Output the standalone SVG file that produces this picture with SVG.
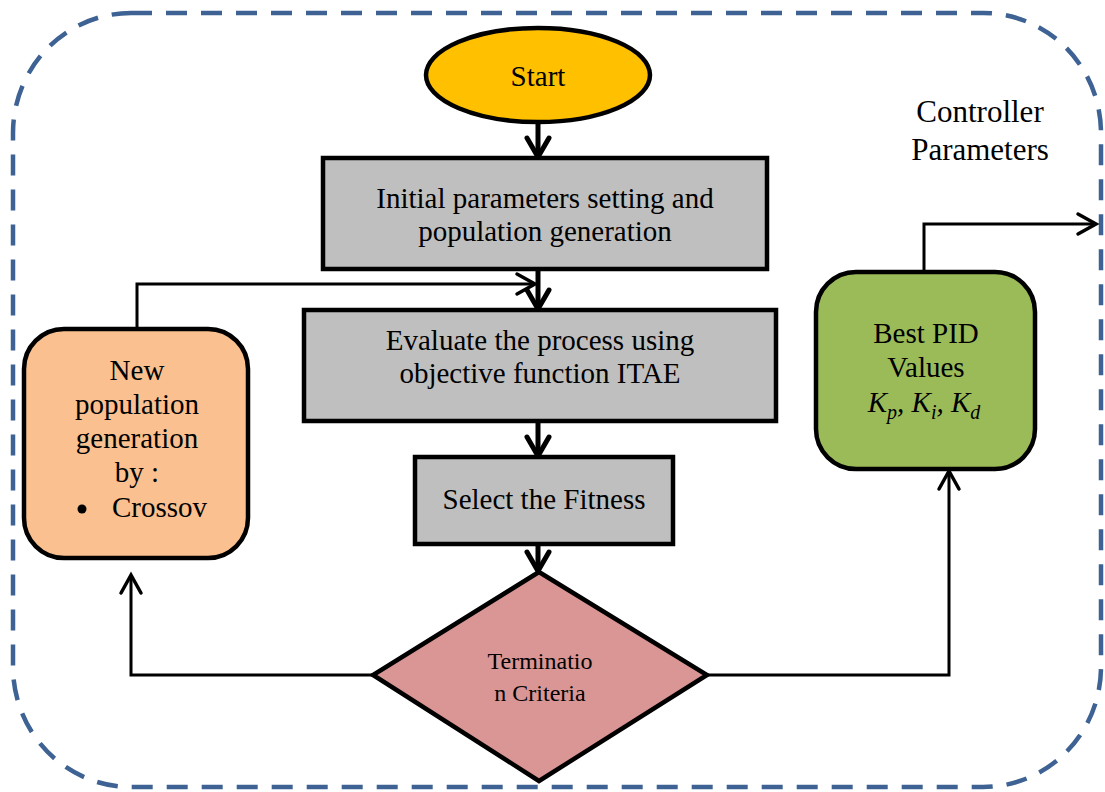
<svg xmlns="http://www.w3.org/2000/svg" width="1105" height="792" viewBox="0 0 1105 792">
<style>
text{font-family:"Liberation Serif","Times New Roman",serif;fill:#000;text-anchor:middle}
.t{font-size:29px}
.node{stroke:#000;stroke-width:4.5}
.thick{fill:none;stroke:#000;stroke-width:5}
.thin{fill:none;stroke:#000;stroke-width:3}
</style>
<defs>
<marker id="ah" viewBox="-24 -16 28 32" refX="0" refY="0" markerWidth="28" markerHeight="32" markerUnits="userSpaceOnUse" orient="auto" overflow="visible">
<path d="M-19,-11 L0,0 L-19,11" fill="none" stroke="#000" stroke-width="5" stroke-linecap="round"/>
</marker>
<marker id="ah2" viewBox="-24 -16 28 32" refX="0" refY="0" markerWidth="28" markerHeight="32" markerUnits="userSpaceOnUse" orient="auto" overflow="visible">
<path d="M-18,-10 L0,0 L-18,10" fill="none" stroke="#000" stroke-width="3.5" stroke-linecap="round"/>
</marker>
</defs>
<rect x="13" y="13" width="1088" height="774" rx="118" ry="120" fill="none" stroke="#3D6293" stroke-width="4.5" stroke-dasharray="21 14"/>
<g id="connectors">
<line class="thick" x1="538" y1="122" x2="538" y2="157" marker-end="url(#ah)"/>
<line class="thick" x1="538" y1="269" x2="538" y2="309" marker-end="url(#ah)"/>
<line class="thick" x1="538" y1="421" x2="538" y2="456" marker-end="url(#ah)"/>
<line class="thick" x1="538" y1="544" x2="538" y2="571" marker-end="url(#ah)"/>
<polyline class="thin" points="137,328 137,284 535,284" marker-end="url(#ah2)"/>
<polyline class="thin" points="373,675 131,675 131,575" marker-end="url(#ah2)"/>
<polyline class="thin" points="707,675 949,675 949,471" marker-end="url(#ah2)"/>
<polyline class="thin" points="924,272 924,224 1096,224" marker-end="url(#ah2)"/>
</g>
<g id="start">
<ellipse class="node" cx="538" cy="75" rx="112" ry="47" fill="#FFC000"/>
<text class="t" x="538" y="86">Start</text>
</g>
<g id="init">
<rect class="node" x="323" y="158" width="444" height="111" fill="#BFBFBF"/>
<text class="t" x="545" y="208">Initial parameters setting and</text>
<text class="t" x="545" y="241">population generation</text>
</g>
<g id="evaluate">
<rect class="node" x="304" y="310" width="472" height="111" fill="#BFBFBF"/>
<text class="t" x="540" y="350">Evaluate the process using</text>
<text class="t" x="540" y="383">objective function ITAE</text>
</g>
<g id="select">
<rect class="node" x="415" y="457" width="258" height="87" fill="#BFBFBF"/>
<text class="t" x="544" y="509">Select the Fitness</text>
</g>
<g id="termination">
<polygon class="node" points="539,572 707,675 539,781 373,675" fill="#D99694"/>
<text x="540" y="669" font-size="24">Terminatio</text>
<text x="540" y="701" font-size="24">n Criteria</text>
</g>
<g id="newpop">
<rect class="node" x="24" y="329" width="224" height="229" rx="40" ry="40" fill="#FAC090"/>
<text class="t" x="137" y="380">New</text>
<text class="t" x="137" y="414">population</text>
<text class="t" x="137" y="448">generation</text>
<text class="t" x="137" y="482">by :</text>
<circle cx="82" cy="509" r="4.5" fill="#000"/>
<text class="t" x="112" y="517" style="text-anchor:start">Crossov</text>
</g>
<g id="best">
<rect class="node" x="816" y="272" width="219" height="197" rx="40" ry="40" fill="#9BBB59"/>
<text class="t" x="926" y="343">Best PID</text>
<text class="t" x="926" y="377">Values</text>
<text x="924" y="412" font-size="29" font-style="italic">K<tspan font-size="20" dy="7">p</tspan><tspan dy="-7">, K</tspan><tspan font-size="20" dy="7">i</tspan><tspan dy="-7">, K</tspan><tspan font-size="20" dy="7">d</tspan></text>
</g>
<g id="label">
<text x="980" y="122" font-size="31">Controller</text>
<text x="980" y="160" font-size="31">Parameters</text>
</g>
</svg>
